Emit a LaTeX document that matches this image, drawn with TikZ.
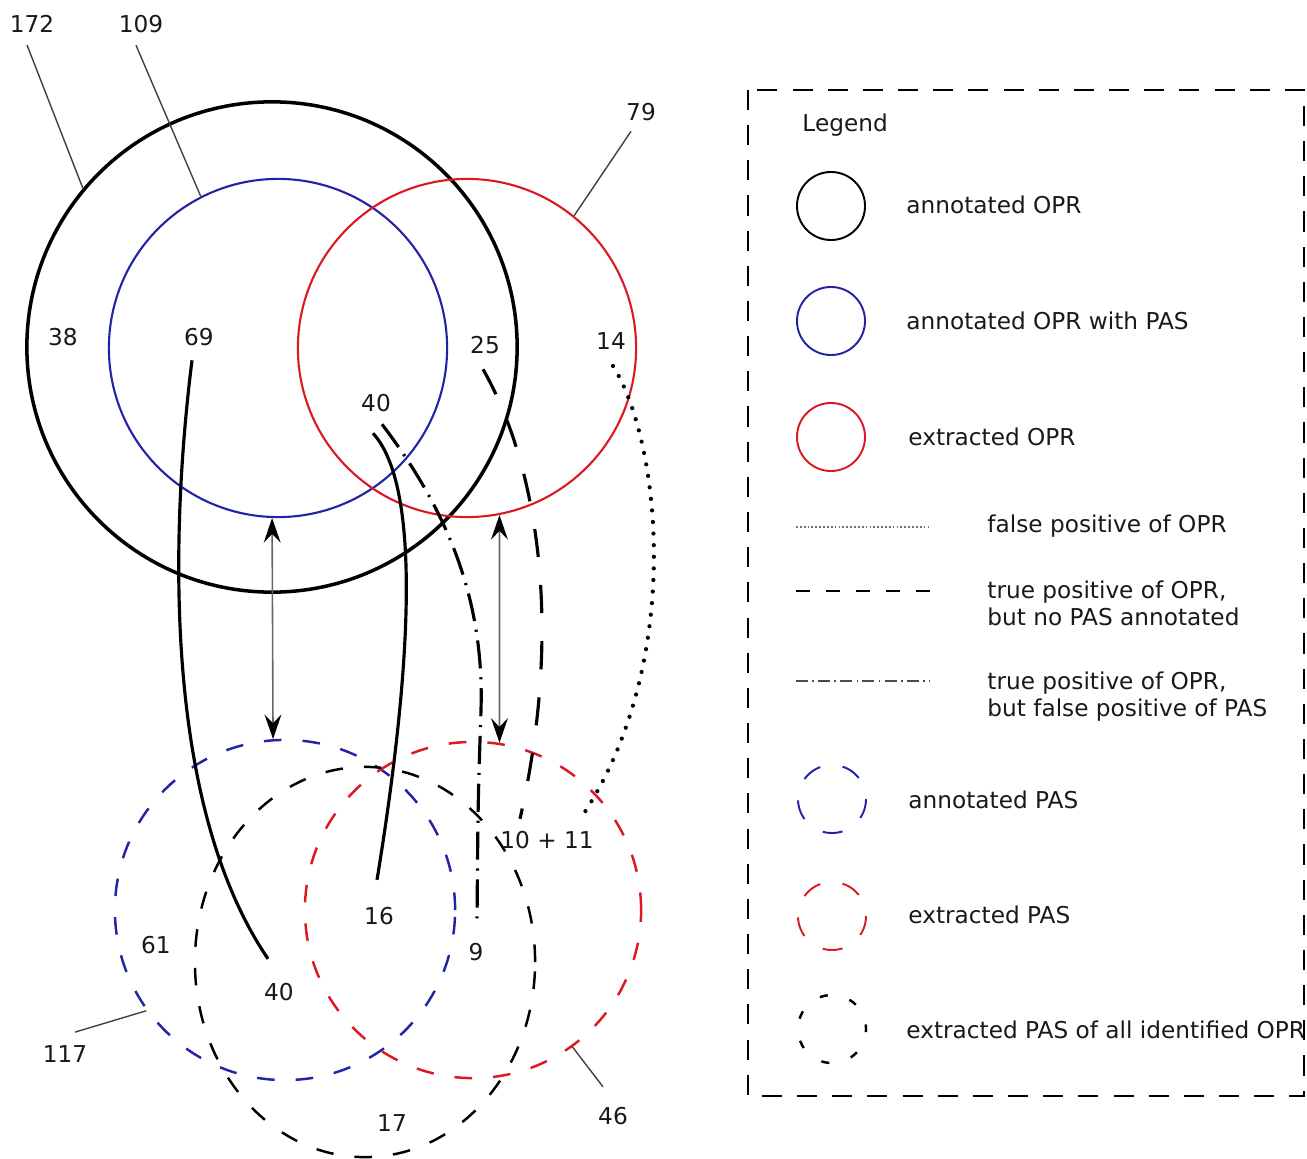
\documentclass[tikz,border=0pt]{standalone}
\usepackage{fontspec}
\setmainfont{DejaVu Sans}
\usetikzlibrary{arrows.meta,shapes.geometric}
\definecolor{opblue}{RGB}{35,35,165}
\definecolor{opred}{RGB}{220,25,35}

\begin{document}
\begin{tikzpicture}[x=0.01cm,y=-0.01cm,
  every node/.style={font=\fontsize{6.6}{7.9}\selectfont, text=black!90, inner sep=0.5pt},
  num/.style={anchor=base},
  lab/.style={anchor=base west},
  ring/.style={circle, draw, inner sep=0pt, minimum size=#1},
  solidring/.style={line width=0.6pt},
  dashring/.style={line width=0.7pt, dash pattern=on 5pt off 6pt},
  leader/.style={line width=0.4pt, draw=black!75},
  mapping/.style={line width=0.45pt, draw=black!60,
    {Stealth[length=7pt,width=4.8pt,inset=2.5pt,color=black]}-{Stealth[length=7pt,width=4.8pt,inset=2.5pt,color=black]}},
  solidcurve/.style={line width=0.9pt},
  dashdotcurve/.style={line width=0.9pt, dash pattern=on 8pt off 2.5pt on 0.6pt off 2.5pt},
  dashcurve/.style={line width=0.9pt, dash pattern=on 8pt off 8pt},
  dotcurve/.style={line width=1.2pt, line cap=round, dash pattern=on 0pt off 3.3pt},
  legring/.style={circle, draw, inner sep=0pt, minimum size=0.68cm, line width=0.55pt},
  legdash/.style={dash pattern=on 5.7pt off 6.45pt, dash phase=5.7pt},
  legshort/.style={line width=0.7pt, dash pattern=on 2.3pt off 6.4pt, dash phase=1pt}
]
\path[use as bounding box] (0,0) rectangle (1307,1158);

% ---- OPR sets (top) ----
\node[ring=4.9cm, line width=1pt] (annOPR) at (272,347) {};
\node[ring=3.38cm, draw=opblue, solidring] (annOPRpas) at (278,348) {};
\node[ring=3.38cm, draw=opred, solidring] (extOPR) at (467,348) {};

% ---- PAS sets (bottom) ----
\node[ring=3.4cm, draw=opblue, dashring] (annPAS) at (285,910) {};
\node[ring=3.36cm, draw=opred, dashring] (extPAS) at (473,910) {};
\node[ellipse, draw, inner sep=0pt, minimum width=3.4cm, minimum height=3.9cm, dashring] (allPAS) at (365,962) {};

% ---- counts ----
\node[num] (n172) at (32,32.5) {172};
\node[num] (n109) at (141,32.5) {109};
\node[num] (n79) at (641,120.5) {79};
\node[num] (n38) at (63,345.5) {38};
\node[num] (n69) at (199,345.5) {69};
\node[num] (n25) at (485,353.5) {25};
\node[num] (n14) at (611,349.5) {14};
\node[num] (n40a) at (376,411.5) {40};
\node[num] (n61) at (156,953.5) {61};
\node[num] (n40b) at (279,1000.5) {40};
\node[num] (n16) at (379,924.5) {16};
\node[num] (n9) at (476,960.5) {9};
\node[num] (n1011) at (547,848.5) {10 + 11};
\node[num] (n117) at (65,1062.5) {117};
\node[num] (n17) at (392,1131.5) {17};
\node[num] (n46) at (613,1124.5) {46};

% ---- leader lines from totals to their sets ----
\draw[leader] ([shift={(-5,10)}]n172.south) -- (annOPR.140);
\draw[leader] ([shift={(-5,10)}]n109.south) -- (annOPRpas.117);
\draw[leader] ([shift={(-10,8)}]n79.south) -- (extOPR.51);
\draw[leader] ([shift={(10,-11)}]n117.north) -- (annPAS.216);
\draw[leader] ([shift={(-10,-18)}]n46.north) -- (extPAS.-54);

% ---- correspondence arrows between OPR and PAS sets ----
\draw[mapping] (annOPRpas.-92) -- (annPAS.94);
\draw[mapping] (extOPR.-79.4) -- (extPAS.81.4);

% ---- flows from OPR regions to PAS regions ----
\coordinate (f69) at ([shift={(-7,12)}]n69.south);
\coordinate (t40) at ([shift={(-11,-22)}]n40b.north);
\draw[solidcurve] (f69) .. controls (172,520) and (160,800) .. (t40);

\coordinate (f40) at ([shift={(-3,19)}]n40a.south);
\coordinate (t16) at ([shift={(-2,-25)}]n16.north);
\draw[solidcurve] (f40) .. controls (425,490) and (408,690) .. (t16);

\coordinate (g40) at ([shift={(6,10)}]n40a.south);
\coordinate (t9) at ([shift={(1,-16)}]n9.north);
\draw[dashdotcurve] (g40) .. controls (455,520) and (484,610) .. (481,710) .. controls (478,800) .. (t9);

\coordinate (f25) at ([shift={(-2,13)}]n25.south);
\coordinate (t1011) at ([shift={(-27,-10)}]n1011.north);
\draw[dashcurve] (f25) .. controls (535,460) and (565,620) .. (t1011);

\coordinate (f14) at ([shift={(2,14)}]n14.south);
\coordinate (u1011) at ([shift={(36,-14)}]n1011.north);
\draw[dotcurve] (f14) .. controls (660,440) and (685,660) .. (u1011);

% ---- legend ----
\draw[line width=0.7pt, dash pattern=on 5.7pt off 4.3pt] (748,90) rectangle (1304,1096);
\node[lab] (legtitle) at (800,131.5) {Legend};

\node[legring] (lgA) at (831,206) {};
\node[lab] (lgAt) at (904,213.5) {annotated OPR};
\node[legring, draw=opblue] (lgB) at (831,321) {};
\node[lab] (lgBt) at (904,329.5) {annotated OPR with PAS};
\node[legring, draw=opred] (lgC) at (831,437) {};
\node[lab] (lgCt) at (906,445.5) {extracted OPR};

\draw[line width=0.35pt, draw=black!55, dash pattern=on 0.5pt off 0.6pt] (796,527) -- (930,527);
\node[lab] (lgDt) at (985,532.5) {false positive of OPR};
\draw[line width=0.6pt, dash pattern=on 4pt off 4.55pt] (796,591) -- (930,591);
\node[lab] (lgEt) at (985,598.5) {true positive of OPR,};
\node[lab] (lgEu) at (985,625.5) {but no PAS annotated};
\draw[line width=0.5pt, draw=black!70, dash pattern=on 3.4pt off 1.2pt on 0.5pt off 1.2pt] (796,681) -- (930,681);
\node[lab] (lgFt) at (985,689.5) {true positive of OPR,};
\node[lab] (lgFu) at (985,716.5) {but false positive of PAS};

\node[legring, draw=opblue, legdash] (lgG) at (832,799) {};
\node[lab] (lgGt) at (906,808) {annotated PAS};
\node[legring, draw=opred, legdash] (lgH) at (832,916) {};
\node[lab] (lgHt) at (906,923.5) {extracted PAS};
\node[legring, legshort] (lgI) at (832,1029) {};
\node[lab] (lgIt) at (904,1038.5) {extracted PAS of all identified OPR};
\end{tikzpicture}
\end{document}
